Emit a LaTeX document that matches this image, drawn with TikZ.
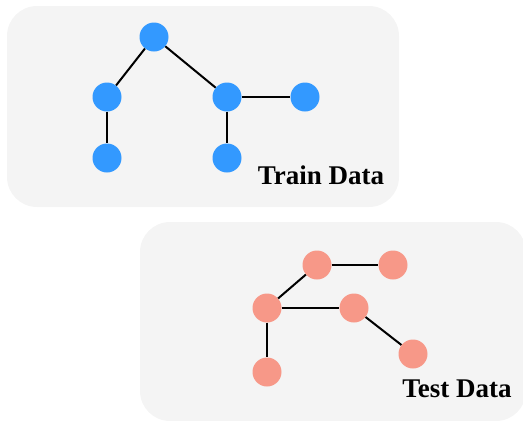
\documentclass[tikz,border=0pt]{standalone}
\usepackage{fontspec}
\setmainfont{Liberation Serif}
\definecolor{boxbg}{RGB}{244,244,244}
\definecolor{trainblue}{RGB}{51,153,255}
\definecolor{testsalmon}{RGB}{247,152,136}
\begin{document}
\begin{tikzpicture}[x=1pt,y=-1pt,
  panel/.style={fill=boxbg,draw=none,rounded corners=30pt},
  trainnode/.style={circle,fill=trainblue,draw=none,minimum size=29pt,inner sep=0pt},
  testnode/.style={circle,fill=testsalmon,draw=none,minimum size=29pt,inner sep=0pt},
  edge/.style={draw=black,line width=2pt},
  lbl/.style={font=\fontsize{27}{30}\selectfont\bfseries,inner sep=0pt}]
\useasboundingbox (0,0) rectangle (523,421);
\begin{scope}
\clip (0,0) rectangle (523,421);
\fill[panel] (7,6) rectangle (399,207);
\fill[panel] (140,222) rectangle (526,421);
\end{scope}
% train graph
\node[trainnode] (t1) at (154,37) {};
\node[trainnode] (t2) at (107,97) {};
\node[trainnode] (t3) at (107,158) {};
\node[trainnode] (t4) at (227,97) {};
\node[trainnode] (t5) at (305,97) {};
\node[trainnode] (t6) at (227,158) {};
\begin{scope}[on background layer/.style={}]
\end{scope}
\draw[edge] (t1) -- (t2);
\draw[edge] (t1) -- (t4);
\draw[edge] (t2) -- (t3);
\draw[edge] (t4) -- (t5);
\draw[edge] (t4) -- (t6);
\node[lbl,anchor=base] (trainlbl) at (321,184) {Train Data};
% test graph
\node[testnode] (s1) at (317,265) {};
\node[testnode] (s2) at (393,265) {};
\node[testnode] (s3) at (267,308) {};
\node[testnode] (s4) at (354,308) {};
\node[testnode] (s5) at (413,354) {};
\node[testnode] (s6) at (267,372) {};
\draw[edge] (s1) -- (s2);
\draw[edge] (s1) -- (s3);
\draw[edge] (s3) -- (s4);
\draw[edge] (s4) -- (s5);
\draw[edge] (s3) -- (s6);
\node[lbl,anchor=base] (testlbl) at (457,397) {Test Data};
\end{tikzpicture}
\end{document}
